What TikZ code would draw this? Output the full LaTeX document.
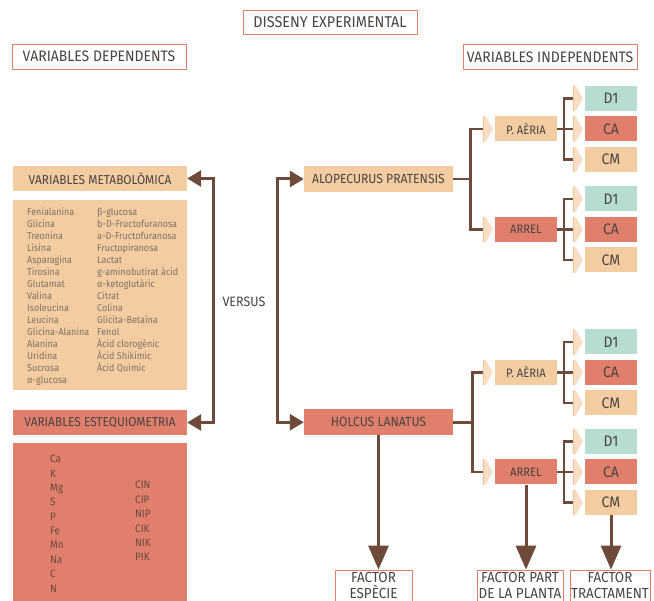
\documentclass[tikz,border=0pt]{standalone}
\usepackage{fontspec}
\setmainfont{Fira Sans}[FakeStretch=0.92]
\usetikzlibrary{arrows.meta,calc}
\definecolor{peach}{HTML}{F3CCA2}
\definecolor{salmon}{HTML}{E07F6B}
\definecolor{mint}{HTML}{B7DDD2}
\definecolor{brownl}{HTML}{6E4A3A}
\definecolor{txt}{HTML}{4A4440}
\definecolor{itemc}{HTML}{84705F}
\definecolor{elemc}{HTML}{6B4A40}
\definecolor{chevl}{HTML}{F8DEC4}
\definecolor{chevd}{HTML}{F0C497}
\newcommand{\chev}[1]{%
  \fill[chevl] ([xshift=-12pt]#1.north west) -- ([xshift=-9pt]#1.north west) -- ([xshift=-2pt]#1.west) -- ([xshift=-9pt]#1.south west) -- ([xshift=-12pt]#1.south west) -- cycle;
  \fill[chevd] ([xshift=-12pt]#1.north west) rectangle ([xshift=-10.5pt]#1.south west);}
\begin{document}
\begin{tikzpicture}[x=1pt,y=-1pt,
  box/.style={inner sep=0pt, minimum height=25pt, text=txt, font=\fontsize{12.9}{15}\selectfont},
  outline/.style={box, draw=salmon, line width=0.8pt, fill=white, font=\fontsize{15.2}{17}\selectfont},
  pbox/.style={box, fill=peach},
  sbox/.style={box, fill=salmon},
  mbox/.style={box, fill=mint},
  small/.style={minimum width=52pt, font=\fontsize{15.2}{17}\selectfont},
  partbox/.style={minimum width=62pt, font=\fontsize{12.2}{14}\selectfont},
  item/.style={inner sep=0pt, text height=7pt, text depth=2pt, anchor=west, text=itemc, font=\fontsize{9.8}{12}\selectfont},
  elem/.style={inner sep=0pt, text height=8pt, text depth=2.2pt, anchor=west, text=elemc, font=\fontsize{10.8}{12}\selectfont},
  factor/.style={outline, minimum height=31pt, align=center, font=\fontsize{14.6}{16}\selectfont},
  conn/.style={draw=brownl, line width=2.6pt},
  dbl/.style={draw=brownl, line width=3pt, arrows={Triangle[length=14pt,width=16pt]-Triangle[length=14pt,width=16pt]}},
  dnarr/.style={draw=brownl, line width=3pt, arrows={-Triangle[length=24pt,width=20pt]}}
]
\useasboundingbox (0,0) rectangle (654,601);
\fill[white] (0,0) rectangle (654,601);

% headings
\node[outline, minimum width=174pt, minimum height=24pt, font=\fontsize{15.6}{17}\selectfont] (title) at (330,22) {DISSENY EXPERIMENTAL};
\node[outline, minimum width=174pt] (dep) at (99,56.5) {VARIABLES DEPENDENTS};
\node[outline, minimum width=174pt] (indep) at (550,57) {VARIABLES INDEPENDENTS};

% left side
\node[pbox, minimum width=174pt] (meta) at (100,178.5) {VARIABLES METABOLÒMICA};
\node[pbox, minimum width=174pt, minimum height=190pt] (metalist) at (100,295) {};
\node[sbox, minimum width=174pt] (esteq) at (100,422.5) {VARIABLES ESTEQUIOMETRIA};
\node[sbox, minimum width=174pt, minimum height=158pt] (esteqlist) at (100,522) {};

\foreach [count=\i] \t in {Fenialanina,Glicina,Treonina,Lisina,Asparagina,Tirosina,Glutamat,Valina,Isoleucina,Leucina,Glicina-Alanina,Alanina,Uridina,Sucrosa,α-glucosa}
  \node[item] (ma\i) at (27,{213+12*(\i-1)}) {\t};
\foreach [count=\i] \t in {β-glucosa,b-D-Fructofuranosa,a-D-Fructofuranosa,Fructopiranosa,Lactat,g-aminobutirat àcid,α-ketoglutàric,Citrat,Colina,Glicita-Betaïna,Fenol,Àcid clorogènic,Àcid Shikímic,Àcid Quimic}
  \node[item] (mb\i) at (97,{213+12*(\i-1)}) {\t};
\foreach [count=\i] \t in {Ca,K,Mg,S,P,Fe,Mn,Na,C,N}
  \node[elem] (ea\i) at (50,{460+14.35*(\i-1)}) {\t};
\foreach [count=\i] \t in {CIN,CIP,NIP,CIK,NIK,PIK}
  \node[elem] (eb\i) at (135,{486+14.4*(\i-1)}) {\t};

\node[box, fill=none, font=\fontsize{13.6}{15}\selectfont] (vs) at (244,302) {VERSUS};

% species
\node[pbox, minimum width=149pt, minimum height=26pt, font=\fontsize{13.2}{15}\selectfont] (alo) at (378.5,179) {ALOPECURUS PRATENSIS};
\node[sbox, minimum width=149pt, minimum height=26pt, font=\fontsize{13.2}{15}\selectfont] (hol) at (378.5,422.25) {HOLCUS LANATUS};

% plant parts
\node[pbox, partbox] (pa1) at (526,129) {P. AÈRIA};
\node[sbox, partbox] (ar1) at (526,229.5) {ARREL};
\node[pbox, partbox] (pa2) at (526,372.5) {P. AÈRIA};
\node[sbox, partbox] (ar2) at (526,472) {ARREL};

% treatments
\foreach \g/\yy in {1/98.5,2/199,3/342,4/441.5} {
  \node[mbox, small] (d\g) at (611,\yy) {D1};
  \node[sbox, small] (c\g) at (611,\yy+30.5) {CA};
  \node[pbox, small] (m\g) at (611,\yy+61) {CM};
}

% factors
\node[factor, minimum width=77pt] (fesp) at (373.5,585.5) {FACTOR\\ESPÈCIE};
\node[factor, minimum width=86pt] (fpart) at (520,585.5) {FACTOR PART\\DE LA PLANTA};
\node[factor, minimum width=80pt] (ftract) at (610,585.5) {FACTOR\\TRACTAMENT};

% big connectors
\draw[dbl] (meta.east) -- ++(26,0) |- (esteq.east);
\draw[dbl] (alo.west) -- ++(-26,0) |- (hol.west);

% species to parts
\draw[conn] (alo.east) -- ++(17,0) coordinate (ja);
\draw[conn] ([xshift=-12pt]pa1.west) -| (ja) |- ([xshift=-12pt]ar1.west);
\draw[conn] (hol.east) -- ++(19,0) coordinate (jh);
\draw[conn] ([xshift=-12pt]pa2.west) -| (jh) |- ([xshift=-12pt]ar2.west);

% parts to treatments
\foreach \p/\g in {pa1/1,ar1/2,pa2/3,ar2/4} {
  \draw[conn, line width=2.3pt] (\p.east) -- ([xshift=-12pt]c\g.west);
  \draw[conn, line width=2.3pt] ([xshift=-12pt]d\g.west) -| ($(\p.east)+(7,0)$) |- ([xshift=-12pt]m\g.west);
  \chev{d\g}\chev{c\g}\chev{m\g}
}
\chev{pa1}\chev{ar1}\chev{pa2}\chev{ar2}

% down arrows
\draw[dnarr] (hol.south) -- (hol.south |- fesp.north);
\draw[dnarr] (ar2.south) -- (ar2.south |- fpart.north);
\draw[dnarr] (m4.south) -- (m4.south |- ftract.north);
\end{tikzpicture}
\end{document}
